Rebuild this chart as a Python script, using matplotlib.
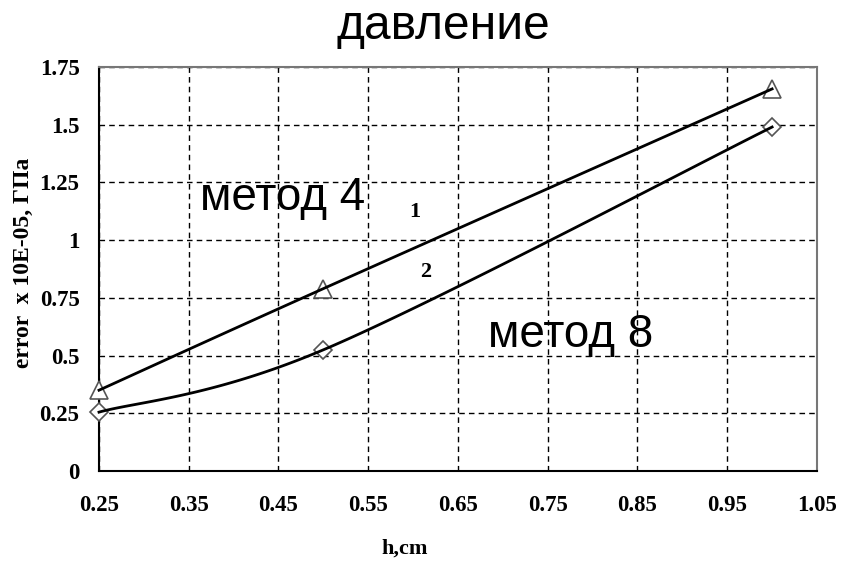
import numpy as np
import matplotlib.pyplot as plt

# h, cm and error (x 10E-05, GPa) for the two methods
h = [0.25, 0.5, 1.0]
err_1 = [0.35, 0.79, 1.655]
err_2 = [0.255, 0.525, 1.49]

x_ticks = [0.25, 0.35, 0.45, 0.55, 0.65, 0.75, 0.85, 0.95, 1.05]
y_ticks = [0, 0.25, 0.5, 0.75, 1, 1.25, 1.5, 1.75]
y_tick_labels = ['0', '0.25', '0.5', '0.75', '1', '1.25', '1.5', '1.75']


def smooth(xs, ys, n=60):
    # catmull-rom style bezier, like a spreadsheet "smoothed line"
    p = np.column_stack([xs, ys])
    p = np.vstack([p[0], p, p[-1]])
    out = []
    t = np.linspace(0, 1, n)[:, None]
    for i in range(1, len(p) - 2):
        p0, p1, p2, p3 = p[i - 1], p[i], p[i + 1], p[i + 2]
        b1 = p1 + (p2 - p0) / 6.0
        b2 = p2 - (p3 - p1) / 6.0
        seg = ((1 - t) ** 3) * p1 + 3 * ((1 - t) ** 2) * t * b1 \
            + 3 * (1 - t) * t ** 2 * b2 + t ** 3 * p2
        out.append(seg)
    out = np.vstack(out)
    return out[:, 0], out[:, 1]


serif = 'Liberation Serif'
sans = 'Liberation Sans'

fig = plt.figure(figsize=(8.52, 5.62), dpi=100)
ax = fig.add_axes([0.1162, 0.1619, 0.8427, 0.7189])

for ys, mk, ms in [(err_1, '^', 13), (err_2, 'D', 9.5)]:
    ax.plot(h, ys, linestyle='none', marker=mk, markersize=ms,
            markerfacecolor='white', markeredgecolor='#555555',
            markeredgewidth=1.2, zorder=3, clip_on=False)
    sx, sy = smooth(h, ys)
    ax.plot(sx, sy, color='black', linewidth=2, zorder=4, clip_on=False)

ax.set_xlim(0.25, 1.05)
ax.set_ylim(0, 1.75)
ax.set_xticks(x_ticks)
ax.set_xticklabels(['%.2f' % v for v in x_ticks])
ax.set_yticks(y_ticks)
ax.set_yticklabels(y_tick_labels)
ax.tick_params(axis='both', length=0, labelsize=16.5)
ax.tick_params(axis='x', pad=17)
ax.tick_params(axis='y', pad=14)
for lab in ax.get_xticklabels() + ax.get_yticklabels():
    lab.set_fontfamily(serif)
    lab.set_fontweight('bold')

ax.grid(True, color='black', linestyle=(0, (4, 3)), linewidth=1)
ax.set_axisbelow(True)
for side in ['left', 'bottom']:
    ax.spines[side].set_color('black')
    ax.spines[side].set_linewidth(1.5)
for side in ['top', 'right']:
    ax.spines[side].set_color('#777777')
    ax.spines[side].set_linewidth(1.5)

ax.set_xlabel('h,cm', fontfamily=serif, fontweight='bold', fontsize=16)
ax.xaxis.set_label_coords(0.426, -0.168)
ax.set_ylabel('error  x 10E-05, ГПа', fontfamily=serif, fontweight='bold',
              fontsize=17)
ax.yaxis.set_label_coords(-0.0905, 0.515)

ax.text(0.3626, 1.13, 'метод 4', fontfamily=sans, fontsize=33,
        va='baseline', ha='left')
ax.text(0.6837, 0.537, 'метод 8', fontfamily=sans, fontsize=33,
        va='baseline', ha='left')
ax.text(0.602, 1.124, '1', fontfamily=serif, fontweight='bold', fontsize=16,
        ha='center', va='center')
ax.text(0.6145, 0.862, '2', fontfamily=serif, fontweight='bold', fontsize=16,
        ha='center', va='center')

fig.text(0.52, 0.93, 'давление', fontfamily=sans, fontsize=34.5,
         ha='center', va='baseline')

fig.savefig('out.png', dpi=100)
